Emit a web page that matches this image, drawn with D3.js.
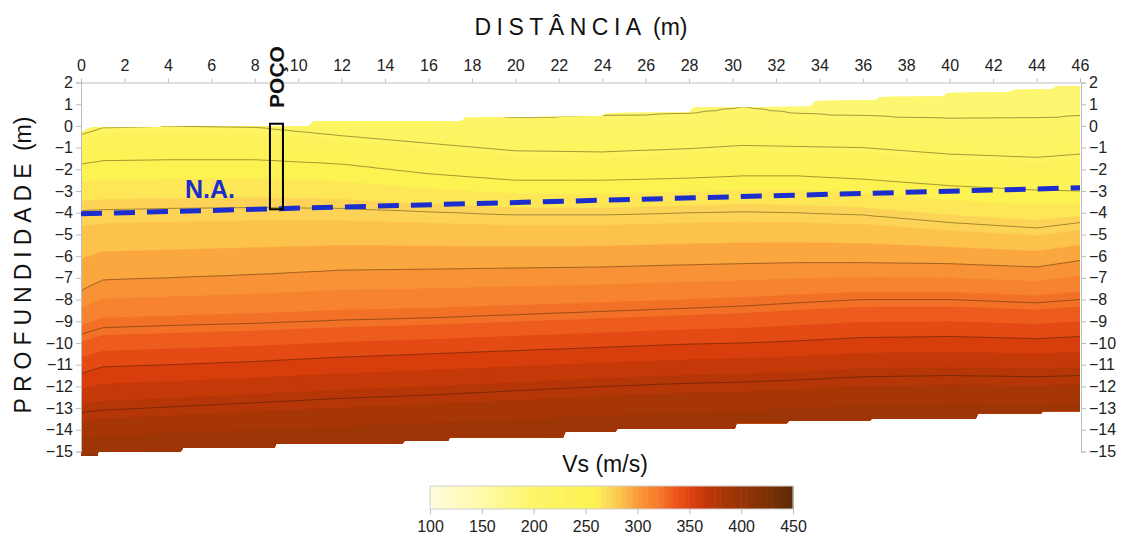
<!DOCTYPE html>
<html>
<head>
<meta charset="utf-8">
<script src="https://cdn.jsdelivr.net/npm/d3@7"></script>
<style>
body { margin: 0; background: #fff; }
svg { display: block; font-family: Arial, "Liberation Sans", sans-serif; }
</style>
</head>
<body>
<svg id="chart" width="1126" height="539"></svg>
<script>
// tick labels
var distTicks = [0, 2, 4, 6, 8, 10, 12, 14, 16, 18, 20, 22, 24, 26, 28, 30, 32, 34, 36, 38, 40, 42, 44, 46];
var depthTicks = [2, 1, 0, -1, -2, -3, -4, -5, -6, -7, -8, -9, -10, -11, -12, -13, -14, -15];
var vsTicks = [100, 150, 200, 250, 300, 350, 400, 450];

// colour bar (Vs, m/s)
var vsStops = [100, 150, 200, 260, 270, 285, 300, 320, 340, 355, 370, 385, 400, 425, 450];
var vsColors = ["#fffde0", "#fffaa8", "#fdf56a", "#fcf250", "#fddc5c", "#fcc24c", "#f99a3a", "#f67a2c",
  "#ea5018", "#d83e0c", "#bc3608", "#a63606", "#983406", "#7e3004", "#5a2a0a"];

// section outline: surface and base (distance m, elevation m)
var surfaceX = [0, 0.5, 3.6, 3.8, 10.5, 10.7, 17.5, 17.7, 22, 24, 24.2, 28, 28.2, 33.6, 33.8, 36.6, 36.8, 39.7, 39.9, 42.7, 42.9, 44.7, 44.9, 46];
var surfaceZ = [-0.3, -0.06, -0.06, 0, 0, 0.2, 0.22, 0.38, 0.42, 0.45, 0.6, 0.62, 0.85, 0.88, 1.15, 1.18, 1.33, 1.36, 1.52, 1.55, 1.66, 1.68, 1.82, 1.84];
var baseX = [0, 0.76, 0.8, 4.6, 4.7, 8.9, 9.0, 14.8, 14.9, 16.9, 17.0, 22.2, 22.3, 24.6, 24.7, 30.1, 30.2, 32.5, 32.6, 36.3, 36.4, 41.2, 41.3, 44.2, 44.3, 46];
var baseZ = [-15.2, -15.2, -15.0, -15.0, -14.84, -14.84, -14.63, -14.63, -14.5, -14.5, -14.35, -14.35, -14.1, -14.1, -13.95, -13.95, -13.7, -13.7, -13.6, -13.6, -13.5, -13.5, -13.25, -13.25, -13.15, -13.15];

// Vs isolines: elevation of each velocity level at the stations
var stations = [0, 1, 4, 8, 12, 16, 20, 24, 28, 30.5, 33, 36, 40, 44, 46];
var iso175 = [8, 8, 8, 8, 8, 8, 8, 8, 8, 8, 8, 8, 8, 8, 8];
var iso200 = [0.7, 0.7, 0.7, 0.7, 0.75, 0.7, 0.36, 0.45, 0.55, 0.85, 0.55, 0.45, 0.32, 0.35, 0.45];
var iso225 = [-0.4, -0.08, 0.0, -0.05, -0.45, -0.8, -1.15, -1.2, -1.05, -0.9, -0.95, -1.0, -1.3, -1.45, -1.3];
var iso250 = [-1.75, -1.6, -1.55, -1.55, -1.75, -2.2, -2.5, -2.5, -2.4, -2.3, -2.3, -2.45, -2.75, -2.95, -3.0];
var iso275 = [-3.9, -3.85, -3.8, -3.75, -3.8, -3.95, -4.1, -4.1, -4.0, -3.95, -4.0, -4.1, -4.45, -4.7, -4.45];
var iso300 = [-7.6, -7.1, -7.0, -6.85, -6.65, -6.6, -6.55, -6.5, -6.4, -6.35, -6.3, -6.3, -6.35, -6.5, -6.2];
var iso325 = [-9.6, -9.3, -9.2, -9.1, -8.95, -8.85, -8.7, -8.55, -8.4, -8.3, -8.15, -8.0, -8.0, -8.15, -8.0];
var iso350 = [-11.4, -11.1, -11.0, -10.85, -10.65, -10.5, -10.35, -10.2, -10.05, -10.0, -9.9, -9.75, -9.7, -9.8, -9.7];
var iso375 = [-13.2, -13.1, -12.95, -12.75, -12.55, -12.4, -12.2, -12.0, -11.85, -11.8, -11.7, -11.55, -11.5, -11.55, -11.5];
var iso400 = [-15.2, -15.1, -15.0, -14.9, -14.75, -14.6, -14.45, -14.3, -14.15, -14.05, -13.95, -13.8, -13.7, -13.7, -13.6];
var isoLevels = [175, 200, 225, 250, 275, 300, 325, 350, 375, 400];
var lineLevels = [200, 225, 250, 275, 300, 325, 350, 375];

// water level (N.A.) and well (POÇO)
var naX = [0, 46];
var naZ = [-4.05, -2.85];
var wellX = [8.7, 9.3];
var wellZ = [0.1, -3.84];

var svg = d3.select("#chart");
var x = d3.scaleLinear().domain([0, 46]).range([81, 1080]);
var y = d3.scaleLinear().domain([2, -15]).range([82.5, 451.5]);
var color = d3.scaleLinear().domain(vsStops).range(vsColors).clamp(true);

// grid for d3.contours, built from the isoline tables
var isoTables = [iso175, iso200, iso225, iso250, iso275, iso300, iso325, iso350, iso375, iso400];
var dx = 0.25, dz = 0.1, zTop = 2.6, zBot = -15.9;
var nx = Math.round(46 / dx) + 1;
var nz = Math.round((zTop - zBot) / dz) + 1;
var values = new Array(nx * nz);
for (var i = 0; i < nx; i++) {
	var xm = i * dx;
	var elevs = isoTables.map(function(t){
		return d3.scaleLinear().domain(stations).range(t)(xm);
	});
	var prof = d3.scaleLinear().domain(elevs).range(isoLevels);
	for (var j = 0; j < nz; j++) {
		values[j * nx + i] = prof(zTop - j * dz);
	}
}

var proj = d3.geoTransform({
	point: function(cx, cy){
		this.stream.point(x((cx - 0.5) * dx), y(zTop - (cy - 0.5) * dz));
	}
});
var gpath = d3.geoPath(proj);

var outline = surfaceX.map(function(d, k){ return [d, surfaceZ[k]]; })
	.concat(baseX.map(function(d, k){ return [d, baseZ[k]]; }).reverse());
var line = d3.line().x(function(d){ return x(d[0]); }).y(function(d){ return y(d[1]); });

svg.append("defs").append("clipPath").attr("id", "sec")
	.append("path").attr("d", line(outline) + "Z");

var field = svg.append("g").attr("clip-path", "url(#sec)");

var fillT = d3.range(100, 450, 10);
field.selectAll("path.band")
	.data(d3.contours().size([nx, nz]).thresholds(fillT)(values))
	.enter()
	.append("path")
		.attr("class", "band")
		.attr("d", gpath)
		.attr("fill", function(d){ return color(d.value + 5); })
		.attr("stroke", function(d){ return color(d.value + 5); })
		.attr("stroke-width", 0.5);

field.selectAll("path.iso")
	.data(d3.contours().size([nx, nz]).thresholds(lineLevels)(values))
	.enter()
	.append("path")
		.attr("class", "iso")
		.attr("d", gpath)
		.attr("fill", "none")
		.attr("stroke", "#2a1a00")
		.attr("stroke-opacity", 0.42)
		.attr("stroke-width", 1);

// axes
function styleAxis(g){
	g.attr("font-family", null).attr("font-size", null);
	g.select(".domain").attr("stroke", "#bdbdbd");
	g.selectAll(".tick line").attr("stroke", "#bdbdbd");
	g.selectAll(".tick text").attr("fill", "#222").style("font-size", "16px");
}

svg.append("g")
	.attr("transform", "translate(0," + y(2) + ")")
	.call(d3.axisTop(x).tickValues(distTicks).tickSize(4).tickPadding(8))
	.call(styleAxis);

svg.append("g")
	.attr("transform", "translate(" + x(0) + ",0)")
	.call(d3.axisLeft(y).tickValues(depthTicks).tickSize(5).tickPadding(3))
	.call(styleAxis);

svg.append("g")
	.attr("transform", "translate(" + (x(46) + 1) + ",0)")
	.call(d3.axisRight(y).tickValues(depthTicks).tickSize(5).tickPadding(3))
	.call(styleAxis);

// water level
svg.append("path")
	.attr("d", line(naX.map(function(d, k){ return [d, naZ[k]]; })))
	.attr("stroke", "#1b2dcc")
	.attr("stroke-width", 5)
	.attr("stroke-dasharray", "21,12")
	.attr("fill", "none");

svg.append("text")
	.attr("x", 185).attr("y", 198)
	.attr("fill", "#1b2dcc")
	.style("font-size", "25px").style("font-weight", "bold")
	.text("N.A.");

// well
svg.append("rect")
	.attr("x", x(wellX[0])).attr("y", y(wellZ[0]))
	.attr("width", x(wellX[1]) - x(wellX[0]))
	.attr("height", y(wellZ[1]) - y(wellZ[0]))
	.attr("fill", "none").attr("stroke", "#000").attr("stroke-width", 2);

svg.append("text")
	.attr("transform", "translate(284,77) rotate(-90)")
	.attr("text-anchor", "middle")
	.style("font-size", "21px").style("font-weight", "bold")
	.attr("fill", "#111")
	.text("POÇO");

// titles
var t1 = svg.append("text")
	.attr("x", 581).attr("y", 35)
	.attr("text-anchor", "middle")
	.attr("fill", "#111")
	.style("font-size", "23px");
t1.append("tspan").style("letter-spacing", "5.5px").text("DISTÂNCIA");
t1.append("tspan").text(" (m)");

var t2 = svg.append("text")
	.attr("transform", "translate(31,265) rotate(-90)")
	.attr("text-anchor", "middle")
	.attr("fill", "#111")
	.style("font-size", "23px");
t2.append("tspan").style("letter-spacing", "6px").text("PROFUNDIDADE");
t2.append("tspan").text(" (m)");

svg.append("text")
	.attr("x", 605).attr("y", 472)
	.attr("text-anchor", "middle")
	.attr("fill", "#111")
	.style("font-size", "23px")
	.text("Vs (m/s)");

// colour bar
var cb = d3.scaleLinear().domain([100, 450]).range([430, 793]);
var cbY = 486, cbH = 23;
svg.selectAll("rect.cb")
	.data(d3.range(100, 450, 5))
	.enter()
	.append("rect")
		.attr("class", "cb")
		.attr("x", function(d){ return cb(d); })
		.attr("y", cbY)
		.attr("width", function(d){ return cb(d + 5) - cb(d) + 0.5; })
		.attr("height", cbH)
		.attr("fill", function(d){ return color(d + 2.5); });
svg.append("rect")
	.attr("x", 430).attr("y", cbY).attr("width", 363).attr("height", cbH)
	.attr("fill", "none").attr("stroke", "#cfcfcf");

svg.append("g")
	.attr("transform", "translate(0," + (cbY + cbH) + ")")
	.call(d3.axisBottom(cb).tickValues(vsTicks).tickSize(5).tickPadding(7).tickSizeOuter(0))
	.call(styleAxis)
	.call(function(g){ g.select(".domain").remove(); });
</script>
</body>
</html>
